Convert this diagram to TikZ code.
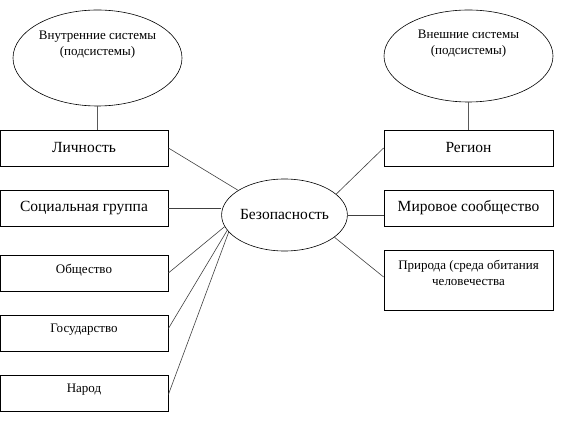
\documentclass[tikz,border=0pt]{standalone}
\usepackage{fontspec}
\setmainfont{Liberation Serif}
\usetikzlibrary{shapes.geometric}
\begin{document}
\begin{tikzpicture}[x=1pt,y=-1pt,
  box/.style={draw, line width=0.8pt, rectangle, minimum width=168pt, minimum height=36pt, inner sep=0pt, align=center},
  oval/.style={draw, line width=0.6pt, ellipse, inner sep=0pt, align=center},
  big/.style={font=\fontsize{15.5}{18}\selectfont},
  small/.style={font=\fontsize{13}{16}\selectfont},
  txt/.style={inner sep=0pt, align=center},
  link/.style={draw=black!75, line width=0.6pt}]
\useasboundingbox (0,0) rectangle (567,435);
% ellipses
\node[oval, minimum width=169pt, minimum height=96pt] (ein) at (97.5,58) {};
\node[txt, small] (tin) at (97.5,45) {Внутренние системы\\(подсистемы)};
\node[oval, minimum width=169pt, minimum height=92pt] (eout) at (468.5,56) {};
\node[txt, small] (tout) at (468.5,44) {Внешние системы\\(подсистемы)};
\node[oval, minimum width=112pt, minimum height=72pt, big] (c) at (284.5,215) {Безопасность};
% left boxes
\node[box, big] (l1) at (84,148) {Личность};
\node[box, big] (l2) at (84,208) {Социальная группа};
\node[box, small] (l3) at (84,273) {};
\node[txt, small] (t3) at (84,270) {Общество};
\node[box, small] (l4) at (84,333.5) {};
\node[txt, small] (t4) at (84,330) {Государство};
\node[box, small] (l5) at (84,393.5) {};
\node[txt, small] (t5) at (84,390) {Народ};
% right boxes
\node[box, big, minimum width=169pt] (r1) at (468.5,148) {Регион};
\node[box, big, minimum width=169pt] (r2) at (468.5,208) {Мировое сообщество};
\node[box, minimum width=169pt, minimum height=60pt] (r3) at (468.5,280) {};
\node[txt, small] (t6) at (468.5,273) {Природа (среда обитания\\человечества};
% connectors
\draw[draw=black!65, line width=1.2pt] (ein.south) -- (ein.south |- l1.north);
\draw[draw=black!65, line width=1.2pt] (eout.south) -- (eout.south |- r1.north);
\draw[link] (l1.east) -- (c.152);
\draw[link] (l2.east) -- (l2.east -| c.west);
\draw[link] (l3.east) -- (c.191);
\draw[link] ([yshift=5pt]l4.east) -- (c.195);
\draw[link] ([yshift=-1pt]l5.east) -- (c.197);
\draw[link] (r1.west) -- (c.22);
\draw[link] (c.east) -- (c.east -| r2.west);
\draw[link] ([yshift=3pt]r3.west) -- (c.-24);
\end{tikzpicture}
\end{document}
